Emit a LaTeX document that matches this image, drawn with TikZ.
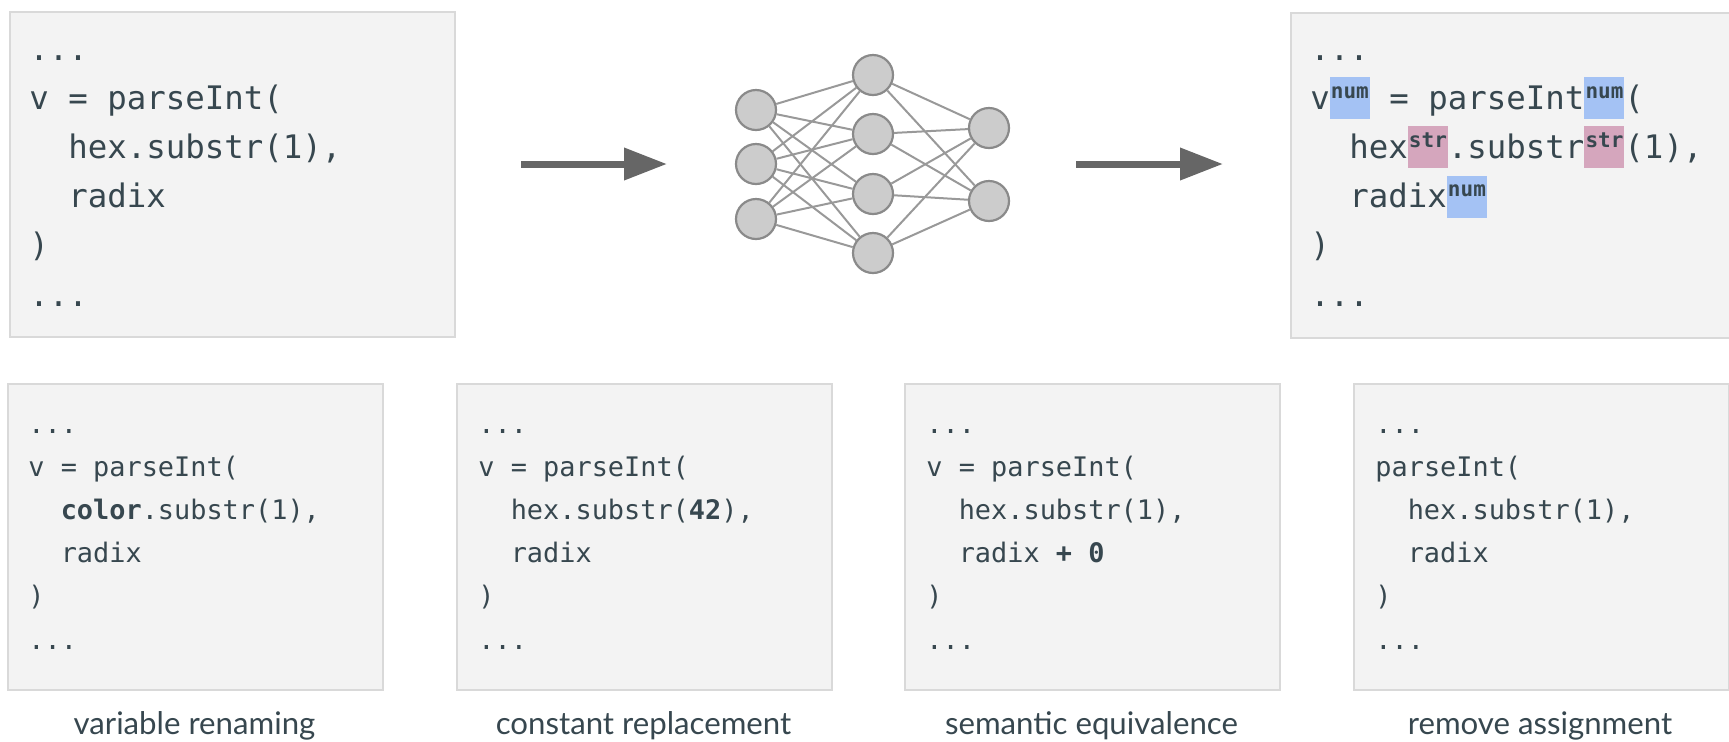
\documentclass[tikz,border=0pt]{standalone}
\usepackage{fontspec}
\setmainfont{Lato}
\newfontfamily\codefont{DejaVu Sans Mono}
\usetikzlibrary{arrows.meta}
\definecolor{ink}{HTML}{37474F}
\definecolor{boxfill}{HTML}{F3F3F3}
\definecolor{boxline}{HTML}{D9D9D9}
\definecolor{numblue}{HTML}{A4C2F4}
\definecolor{strpink}{HTML}{D5A6BD}
\definecolor{nnfill}{HTML}{CCCCCC}
\definecolor{nnline}{HTML}{8A8A8A}
\definecolor{nnedge}{HTML}{999999}
\definecolor{arrowgray}{HTML}{666666}
\newcommand\ks{\hspace*{0.602em}}
\newcommand\ind{\hspace*{1.204em}}
\newcommand\tysup[1]{\makebox[20pt]{\raisebox{5.5pt}{\fontsize{10.5}{10.5}\selectfont\bfseries #1}}}
\tikzset{
  codebox/.style={draw=boxline, fill=boxfill, line width=0.75pt, anchor=north west, inner sep=0pt},
  bigcode/.style={anchor=base west, inner sep=0pt, text width=230pt, align=left, text=ink,
    font=\codefont\fontsize{16.2}{24.6}\selectfont},
  smallcode/.style={anchor=base west, inner sep=0pt, text width=180pt, align=left, text=ink,
    font=\codefont\fontsize{13.45}{21.6}\selectfont},
  caption/.style={anchor=base, inner sep=0pt, text=ink, font=\fontsize{15.6}{15.6}\selectfont},
  neuron/.style={circle, draw=nnline, fill=nnfill, line width=1.1pt, minimum size=20pt, inner sep=0pt},
  synapse/.style={draw=nnedge, line width=1pt},
  bigarrow/.style={draw=arrowgray, line width=3.5pt, -{Triangle[length=21.5pt,width=15.5pt]}},
  numhl/.style={fill=numblue},
  strhl/.style={fill=strpink},
}
\begin{document}
\begin{tikzpicture}[x=0.5pt, y=-0.5pt]
\useasboundingbox (0,0) rectangle (1729,741);
\clip (0,0) rectangle (1729,741);

% top boxes
\node[codebox, minimum width=222.5pt, minimum height=162.5pt] (srcbox) at (9,11) {};
\node[codebox, minimum width=225pt, minimum height=162.5pt] (outbox) at (1290,12) {};
\node[bigcode] (srccode) at (29,60) {...\\
v\ks=\ks parseInt(\\
\ind hex.substr(1),\\
\ind radix\\
)\\
...};
% type highlights
\fill[numhl] (1329.5,77.2) rectangle (1369.5,119.2);
\fill[numhl] (1584.1,77.2) rectangle (1624.1,119.2);
\fill[strhl] (1407.5,126.4) rectangle (1447.5,168.4);
\fill[strhl] (1584.0,126.4) rectangle (1624.0,168.4);
\fill[numhl] (1446.5,175.6) rectangle (1486.5,217.6);
\node[bigcode] (outcode) at (1310,60) {...\\
v\tysup{num}\ks=\ks parseInt\tysup{num}(\\
\ind hex\tysup{str}.substr\tysup{str}(1),\\
\ind radix\tysup{num}\\
)\\
...};

% arrows
\coordinate (a1s) at (521,164);
\coordinate (a1e) at (667,164);
\coordinate (a2s) at (1076,164);
\coordinate (a2e) at (1223,164);
\draw[bigarrow] (a1s) -- (a1e);
\draw[bigarrow] (a2s) -- (a2e);

% neural network
\node[neuron] (i1) at (756,110) {};
\node[neuron] (i2) at (756,164) {};
\node[neuron] (i3) at (756,219) {};
\node[neuron] (h1) at (873,75) {};
\node[neuron] (h2) at (873,134) {};
\node[neuron] (h3) at (873,194) {};
\node[neuron] (h4) at (873,253) {};
\node[neuron] (o1) at (989,128) {};
\node[neuron] (o2) at (989,201) {};
\foreach \a in {i1,i2,i3}{\foreach \b in {h1,h2,h3,h4}{\draw[synapse] (\a) -- (\b);}}
\foreach \a in {h1,h2,h3,h4}{\foreach \b in {o1,o2}{\draw[synapse] (\a) -- (\b);}}

% bottom boxes
\node[codebox, minimum width=187.5pt, minimum height=153pt] (b1) at (7,383) {};
\node[codebox, minimum width=187.5pt, minimum height=153pt] (b2) at (456,383) {};
\node[codebox, minimum width=187.5pt, minimum height=153pt] (b3) at (904,383) {};
\node[codebox, minimum width=187.5pt, minimum height=153pt] (b4) at (1353,383) {};

\node[smallcode] (c1) at (28,433) {...\\
v\ks=\ks parseInt(\\
\ind\textbf{color}.substr(1),\\
\ind radix\\
)\\
...};
\node[smallcode] (c2) at (478,433) {...\\
v\ks=\ks parseInt(\\
\ind hex.substr(\textbf{42}),\\
\ind radix\\
)\\
...};
\node[smallcode] (c3) at (926,433) {...\\
v\ks=\ks parseInt(\\
\ind hex.substr(1),\\
\ind radix\ks\textbf{+\ks 0}\\
)\\
...};
\node[smallcode] (c4) at (1375,433) {...\\
parseInt(\\
\ind hex.substr(1),\\
\ind radix\\
)\\
...};

% captions
\node[caption] (l1) at (194.5,734) {variable renaming};
\node[caption] (l2) at (643.5,734) {constant replacement};
\node[caption] (l3) at (1091.5,734) {semantic equivalence};
\node[caption] (l4) at (1540,734) {remove assignment};
\end{tikzpicture}
\end{document}
